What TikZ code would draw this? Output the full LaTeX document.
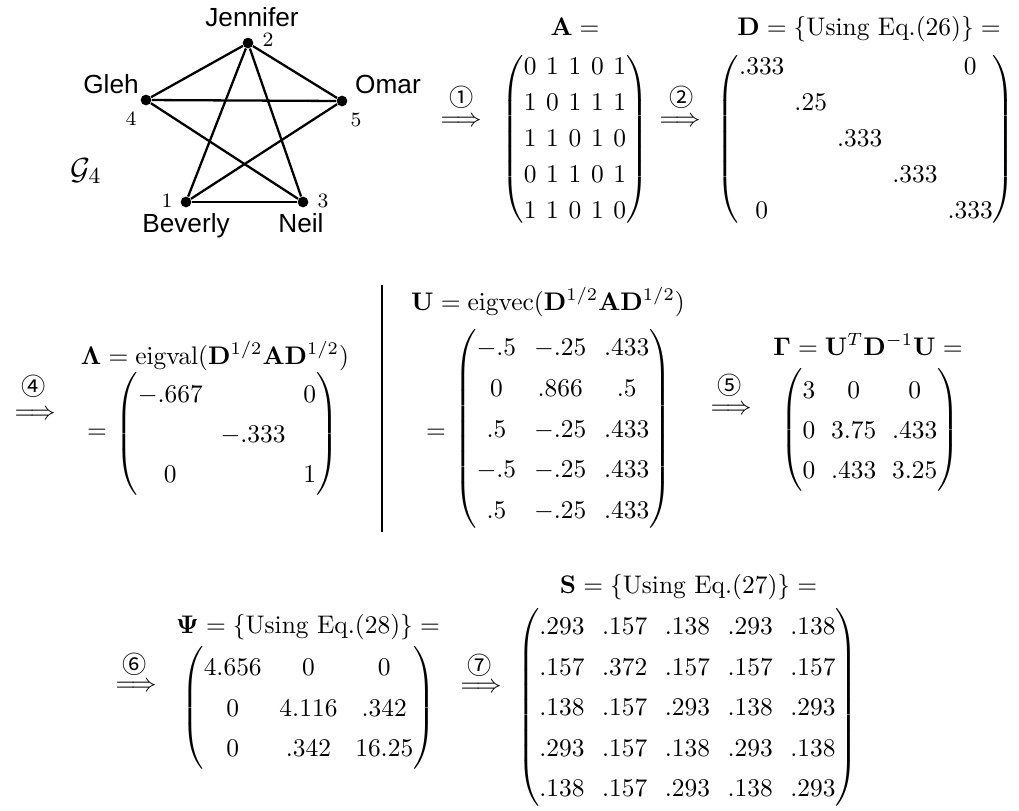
\documentclass[tikz,border=0pt]{standalone}
\usepackage{amsmath}
\usepackage[no-math]{fontspec}
\newfontfamily\gsans{Liberation Sans}
\newfontfamily\circfont{Noto Sans CJK JP}
\tikzset{
  vtx/.style={circle,fill=black,inner sep=0pt,minimum size=4.2pt},
  gedge/.style={line width=0.9pt},
  person/.style={font=\gsans\fontsize{10.3}{12}\selectfont,inner sep=0pt,anchor=base},
  vnum/.style={font=\footnotesize,inner sep=0pt,anchor=base},
  mtx/.style={inner sep=0pt,outer sep=0pt},
  lbl/.style={inner sep=0pt,anchor=base},
  circ/.style={font=\circfont\fontsize{9.5}{9.5}\selectfont,inner sep=0pt},
  imp/.style={inner sep=0pt},
}
\begin{document}
\begin{tikzpicture}[x=0.393pt,y=-0.393pt]
\useasboundingbox (0,0) rectangle (1019,810);
% ---------- graph ----------
\node[vtx] (v1) at (186,202) {};
\node[vtx] (v2) at (248,43) {};
\node[vtx] (v3) at (303,202) {};
\node[vtx] (v4) at (146,100) {};
\node[vtx] (v5) at (342,101) {};
\draw[gedge] (v2) -- (v4);
\draw[gedge] (v2) -- (v5);
\draw[gedge] (v4) -- (v5);
\draw[gedge] (v2) -- (v1);
\draw[gedge] (v2) -- (v3);
\draw[gedge] (v4) -- (v3);
\draw[gedge] (v5) -- (v1);
\draw[gedge] (v1) -- (v3);
\node[person] (nJ) at (252,26) {Jennifer};
\node[person] (nG) at (111,93) {Gleh};
\node[person] (nO) at (388,93) {Omar};
\node[person] (nB) at (186,232) {Beverly};
\node[person] (nN) at (301,232) {Neil};
\node[vnum] (i2) at (268,46) {2};
\node[vnum] (i4) at (131,125) {4};
\node[vnum] (i5) at (356,126) {5};
\node[vnum] (i1) at (167,207) {1};
\node[vnum] (i3) at (323,207) {3};
\node[lbl,anchor=base west,font=\fontsize{13}{15}\selectfont] (g4) at (70,179) {$\mathcal{G}_4$};
% ---------- row 1 ----------
\node[circ] (c1) at (462,97) {①};
\node[imp] (a1) at (461,122) {$\Longrightarrow$};
\node[lbl] (lA) at (575,35) {$\mathbf{A} =$};
\node[mtx] (mA) at (575,139) {$\setlength\arraycolsep{1.9pt}\renewcommand\arraystretch{1.18}
\begin{pmatrix}
0&1&1&0&1\\
1&0&1&1&1\\
1&1&0&1&0\\
0&1&1&0&1\\
1&1&0&1&0
\end{pmatrix}$};
\node[circ] (c2) at (682,97) {②};
\node[imp] (a2) at (680,122) {$\Longrightarrow$};
\node[lbl] (lD) at (869,35) {$\mathbf{D} = \{\text{Using Eq.(26)}\} =$};
\node[mtx] (mD) at (866,139) {$\setlength\arraycolsep{1.97pt}\renewcommand\arraystretch{1.18}
\begin{pmatrix}
.333&&&&0\\
&.25&&&\\
&&.333&&\\
&&&.333&\\
0&&&&.333
\end{pmatrix}$};
% ---------- row 2 ----------
\node[circ] (c4) at (34,386) {④};
\node[imp] (a4) at (35,415) {$\Longrightarrow$};
\node[lbl] (lL) at (215,364) {$\mathbf{\Lambda} = \mathrm{eigval}(\mathbf{D}^{1/2}\mathbf{A}\mathbf{D}^{1/2})$};
\node[lbl] (eL) at (97,438) {$=$};
\node[mtx] (mL) at (227,434) {$\setlength\arraycolsep{3.5pt}\renewcommand\arraystretch{1.31}
\begin{pmatrix}
-.667&&0\\
&-.333&\\
0&&1
\end{pmatrix}$};
\coordinate (vt) at (382,285);
\coordinate (vb) at (382,532);
\draw[line width=0.8pt] (vt) -- (vb);
\node[lbl] (lU) at (548,310) {$\mathbf{U} = \mathrm{eigvec}(\mathbf{D}^{1/2}\mathbf{A}\mathbf{D}^{1/2})$};
\node[lbl] (eU) at (436,438) {$=$};
\node[mtx] (mU) at (563,429) {$\setlength\arraycolsep{3.5pt}\renewcommand\arraystretch{1.33}
\begin{pmatrix}
-.5&-.25&.433\\
0&.866&.5\\
.5&-.25&.433\\
-.5&-.25&.433\\
.5&-.25&.433
\end{pmatrix}$};
\node[circ] (c5) at (730,385) {⑤};
\node[imp] (a5) at (731,410) {$\Longrightarrow$};
\node[lbl] (lG) at (868,355) {$\mathbf{\Gamma} = \mathbf{U}^T\mathbf{D}^{-1}\mathbf{U} =$};
\node[mtx] (mG) at (870,430) {$\setlength\arraycolsep{3.1pt}\renewcommand\arraystretch{1.31}
\begin{pmatrix}
3&0&0\\
0&3.75&.433\\
0&.433&3.25
\end{pmatrix}$};
% ---------- row 3 ----------
\node[circ] (c6) at (135,664) {⑥};
\node[imp] (a6) at (136,687) {$\Longrightarrow$};
\node[lbl] (lP) at (308,633) {$\mathbf{\Psi} = \{\text{Using Eq.(28)}\} =$};
\node[mtx] (mP) at (308.5,708) {$\setlength\arraycolsep{3.5pt}\renewcommand\arraystretch{1.32}
\begin{pmatrix}
4.656&0&0\\
0&4.116&.342\\
0&.342&16.25
\end{pmatrix}$};
\node[circ] (c7) at (480,665) {⑦};
\node[imp] (a7) at (481,688) {$\Longrightarrow$};
\node[lbl] (lS) at (688.5,593) {$\mathbf{S} = \{\text{Using Eq.(27)}\} =$};
\node[mtx] (mS) at (687.5,707.5) {$\setlength\arraycolsep{3.44pt}\renewcommand\arraystretch{1.33}
\begin{pmatrix}
.293&.157&.138&.293&.138\\
.157&.372&.157&.157&.157\\
.138&.157&.293&.138&.293\\
.293&.157&.138&.293&.138\\
.138&.157&.293&.138&.293
\end{pmatrix}$};
\end{tikzpicture}
\end{document}
